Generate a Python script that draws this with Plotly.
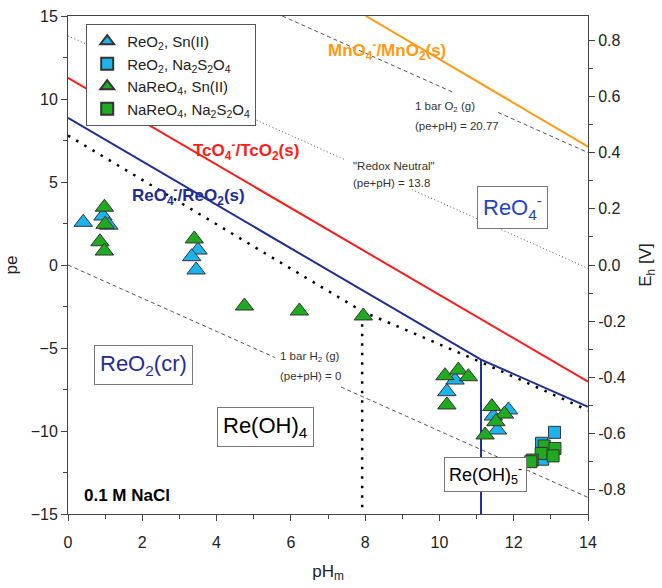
import plotly.graph_objects as go

# ---------------- data ----------------
# Measured points (pH_m, pe)
reo2_sn_ph = [0.41, 0.94, 1.10, 3.50, 3.33, 3.45, 10.42, 10.20, 11.86, 11.45, 11.56]
reo2_sn_pe = [2.57, 2.95, 2.40, 0.90, 0.50, -0.30, -6.93, -7.63, -8.73, -9.10, -9.94]

reo2_dit_ph = [13.10, 12.75, 13.02, 12.78]
reo2_dit_pe = [-10.08, -10.74, -11.45, -11.70]

nareo4_sn_ph = [0.98, 1.00, 0.86, 0.98, 3.40, 4.75, 6.23, 7.95, 10.15, 10.51, 10.78, 10.20,
                11.41, 11.75, 11.52, 11.23]
nareo4_sn_pe = [3.48, 2.45, 1.40, 0.84, 1.57, -2.47, -2.77, -3.07, -6.67, -6.33, -6.73, -8.43,
                -8.53, -8.98, -9.44, -10.24]

nareo4_dit_ph = [12.82, 13.11, 12.74, 13.06, 12.50, 12.46]
nareo4_dit_pe = [-10.90, -11.05, -11.35, -11.50, -11.75, -11.85]

# Boundary lines (pH_m, pe)
mno4_ph = [8.02, 14.0]
mno4_pe = [15.0, 7.13]

tco4_ph = [0.0, 14.0]
tco4_pe = [11.28, -7.03]

reo4_ph = [0.0, 11.12, 14.0]
reo4_pe = [8.86, -5.70, -8.54]

reoh5_ph = [11.12, 11.12]
reoh5_pe = [-5.70, -15.0]

reoh4_ph = [0.0, 7.93, 11.12, 14.0]
reoh4_pe = [7.80, -2.80, -5.85, -8.75]

reoh4v_ph = [7.92, 7.92]
reoh4v_pe = [-3.0, -15.0]

o2_ph = [5.77, 10.42, None, 11.58, 14.0]
o2_pe = [15.0, 10.35, None, 9.19, 6.77]

neutral_ph = [0.0, 7.46, None, 9.26, 14.0]
neutral_pe = [13.8, 6.34, None, 4.54, -0.2]

h2_ph = [0.0, 5.57, None, 7.35, 14.0]
h2_pe = [0.0, -5.57, None, -7.35, -14.0]

pe_ticks = [-15, -10, -5, 0, 5, 10, 15]
ph_ticks = [0, 2, 4, 6, 8, 10, 12, 14]
eh_ticks = [0.8, 0.6, 0.4, 0.2, 0.0, -0.2, -0.4, -0.6, -0.8]
eh_labels = ["0.8", "0.6", "0.4", "0.2", "0.0", "-0.2", "-0.4", "-0.6", "-0.8"]

# ---------------- styles ----------------
FONT = "Arial, Liberation Sans, sans-serif"
BLUE_M = "#1cb4ee"
GREEN_M = "#1faa1f"
NAVY = "#1f2d96"
RED = "#ff1a1a"
ORANGE = "#ff9a12"
GRAY = "#555555"

fig = go.Figure()

def line(x, y, color, width, dash="solid"):
    fig.add_trace(go.Scatter(x=x, y=y, mode="lines", showlegend=False, hoverinfo="skip",
                             line=dict(color=color, width=width, dash=dash)))

line(o2_ph, o2_pe, GRAY, 1, "4px,3px")
line(neutral_ph, neutral_pe, GRAY, 1, "1px,2.5px")
line(h2_ph, h2_pe, GRAY, 1, "4px,3px")
line(mno4_ph, mno4_pe, ORANGE, 2)
line(tco4_ph, tco4_pe, RED, 2)
line(reoh4_ph, reoh4_pe, "#000000", 2.5, "2.5px,7px")
line(reoh4v_ph, reoh4v_pe, "#000000", 2.5, "2.5px,7px")
line(reo4_ph, reo4_pe, NAVY, 2)
line(reoh5_ph, reoh5_pe, NAVY, 2)

mk_line = dict(color="#333333", width=1)
fig.add_trace(go.Scatter(x=reo2_sn_ph, y=reo2_sn_pe, mode="markers", legendgroup="a",
                         name="ReO<sub>2</sub>, Sn(II)",
                         marker=dict(symbol="triangle-up", size=16, color=BLUE_M, line=mk_line)))
fig.add_trace(go.Scatter(x=reo2_dit_ph, y=reo2_dit_pe, mode="markers", legendgroup="b",
                         name="ReO<sub>2</sub>, Na<sub>2</sub>S<sub>2</sub>O<sub>4</sub>",
                         marker=dict(symbol="square", size=12, color=BLUE_M, line=mk_line)))
fig.add_trace(go.Scatter(x=nareo4_sn_ph, y=nareo4_sn_pe, mode="markers", legendgroup="c",
                         name="NaReO<sub>4</sub>, Sn(II)",
                         marker=dict(symbol="triangle-up", size=16, color=GREEN_M, line=mk_line)))
fig.add_trace(go.Scatter(x=nareo4_dit_ph, y=nareo4_dit_pe, mode="markers", legendgroup="d",
                         name="NaReO<sub>4</sub>, Na<sub>2</sub>S<sub>2</sub>O<sub>4</sub>",
                         marker=dict(symbol="square", size=12, color=GREEN_M, line=mk_line)))

# invisible trace to carry the Eh axis
fig.add_trace(go.Scatter(x=[0], y=[0], yaxis="y2", mode="markers", showlegend=False,
                         hoverinfo="skip", marker=dict(opacity=0)))

def ann(text, x, y, size, color, bold=False, box=False, xanchor="center", pad=4):
    if bold:
        text = "<b>" + text + "</b>"
    kw = dict(x=x, y=y, xref="x", yref="y", text=text, showarrow=False, xanchor=xanchor,
              yanchor="middle", font=dict(family=FONT, size=size, color=color))
    if box:
        kw.update(bgcolor="white", bordercolor="#777777", borderwidth=1, borderpad=pad)
    fig.add_annotation(**kw)

ann("MnO<sub>4</sub><sup>-</sup>/MnO<sub>2</sub>(s)", 8.59, 12.95, 17, ORANGE, bold=True)
ann("TcO<sub>4</sub><sup>-</sup>/TcO<sub>2</sub>(s)", 4.8, 6.9, 17, RED, bold=True)
ann("ReO<sub>4</sub><sup>-</sup>/ReO<sub>2</sub>(s)", 3.25, 4.16, 17, NAVY, bold=True)
ann("1 bar O<sub>2</sub> (g)", 9.29, 9.52, 11.5, "#333333", xanchor="left")
ann("(pe+pH) = 20.77", 9.29, 8.37, 11.5, "#333333", xanchor="left")
ann("\"Redox Neutral\"", 7.62, 5.96, 11.5, "#333333", xanchor="left")
ann("(pe+pH) = 13.8", 7.62, 4.94, 11.5, "#333333", xanchor="left")
ann("1 bar H<sub>2</sub> (g)", 5.65, -5.54, 11.5, "#333333", xanchor="left")
ann("(pe+pH) = 0", 5.65, -6.69, 11.5, "#333333", xanchor="left")
ann("ReO<sub>4</sub><sup>-</sup>", 11.97, 3.46, 22, "#2244cc", box=True, pad=5)
ann("ReO<sub>2</sub>(cr)", 2.02, -6.02, 22, NAVY, box=True, pad=5)
ann("Re(OH)<sub>4</sub>", 5.33, -9.76, 22, "black", box=True, pad=5)
ann("Re(OH)<sub>5</sub><sup>-</sup>", 11.23, -12.6, 18, "black", box=True, pad=4)
ann("0.1 M NaCl", 0.38, -13.86, 17, "black", bold=True, xanchor="left")

axcol = "#444444"
fig.update_layout(
    width=662, height=588,
    margin=dict(l=68, r=74, t=16, b=74),
    plot_bgcolor="white", paper_bgcolor="white",
    hovermode=False,
    font=dict(family=FONT, size=16, color="#222222"),
    xaxis=dict(range=[0, 14], tickvals=ph_ticks, ticks="outside", ticklen=6, tickcolor=axcol,
               showline=True, linecolor=axcol, linewidth=1, mirror=True, showgrid=False,
               zeroline=False, tickfont=dict(size=16), automargin=False, ticklabelstandoff=8,
               minor=dict(dtick=1, ticks="outside", ticklen=4, tickcolor=axcol, showgrid=False),
               title=dict(text="pH<sub>m</sub>", font=dict(size=17), standoff=14)),
    yaxis=dict(range=[-15, 15], tickvals=pe_ticks, ticks="outside", ticklen=6, tickcolor=axcol,
               showline=True, linecolor=axcol, linewidth=1, showgrid=False, zeroline=False,
               tickfont=dict(size=16), automargin=False,
               minor=dict(dtick=2.5, ticks="outside", ticklen=4, tickcolor=axcol, showgrid=False),
               title=dict(text="pe", font=dict(size=17), standoff=8)),
    yaxis2=dict(range=[-15 * 0.05916, 15 * 0.05916], overlaying="y", side="right",
                tickvals=eh_ticks, ticktext=eh_labels, ticks="outside", ticklen=6, tickcolor=axcol,
                showline=True, linecolor=axcol, linewidth=1, showgrid=False, zeroline=False,
                tickfont=dict(size=16), automargin=False,
                minor=dict(dtick=0.1, ticks="outside", ticklen=4, tickcolor=axcol, showgrid=False),
                title=dict(text="E<sub>h</sub> [V]", font=dict(size=17), standoff=14)),
    legend=dict(x=0.035, y=0.984, xanchor="left", yanchor="top", bgcolor="white",
                bordercolor="#555555", borderwidth=1, font=dict(size=15, color="#222222"),
                tracegroupgap=0, itemsizing="constant"),
    showlegend=True,
)

fig.write_html("out.html", config={"displayModeBar": False},
               post_script="document.body.style.margin='0px';")
